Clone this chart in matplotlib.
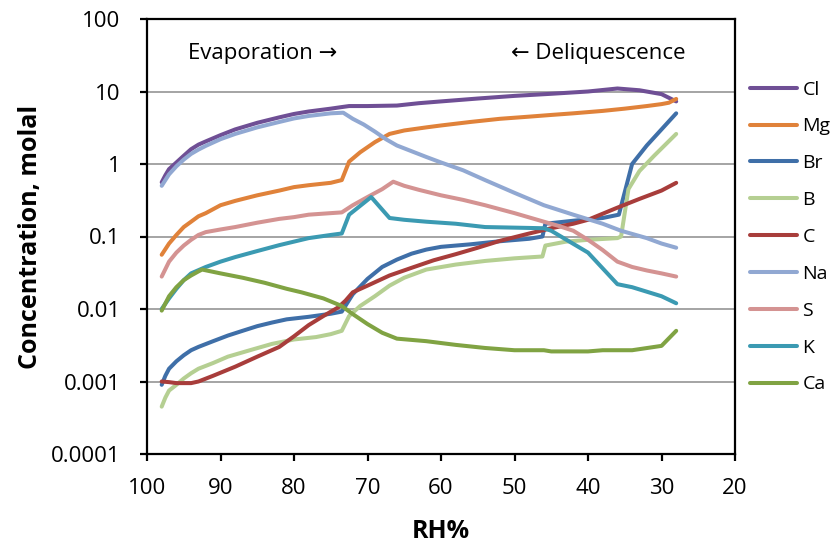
import matplotlib.pyplot as plt
from matplotlib.ticker import FixedLocator, FuncFormatter, NullLocator

# data (RH %, concentration in molal)
cl_rh = [98, 97.5, 97, 96, 95, 94, 93, 92, 90, 88, 85, 82, 80, 78, 75, 73.5, 72.5, 70, 66, 63, 60, 55, 50, 45, 40, 36, 33, 30, 28]
cl_val = [0.56, 0.7, 0.85, 1.05, 1.3, 1.6, 1.85, 2.05, 2.5, 3.0, 3.7, 4.4, 4.9, 5.3, 5.8, 6.1, 6.3, 6.3, 6.4, 6.9, 7.3, 8.0, 8.7, 9.3, 10.0, 11.0, 10.4, 9.2, 7.3]

mg_rh = [98, 97, 96, 95, 94, 93, 92, 90, 88, 85, 82, 80, 78, 75, 73.5, 72.5, 71, 69, 67, 65, 62, 60, 56, 52, 48, 45, 42, 38, 35, 32, 30, 29, 28]
mg_val = [0.056, 0.08, 0.105, 0.135, 0.16, 0.19, 0.21, 0.27, 0.31, 0.37, 0.43, 0.48, 0.51, 0.55, 0.6, 1.08, 1.45, 2.0, 2.6, 2.9, 3.2, 3.4, 3.8, 4.2, 4.5, 4.75, 5.0, 5.4, 5.8, 6.3, 6.7, 7.0, 7.9]

br_rh = [98, 97.5, 97, 96, 95, 94, 93, 91, 89, 87, 85, 83, 81, 78, 75, 73.5, 72, 70, 68, 66, 64, 62, 60, 56, 52, 48, 46.2, 45.8, 42, 38, 35.8, 34, 32, 30, 28]
br_val = [0.0009, 0.0012, 0.0015, 0.0019, 0.0023, 0.0027, 0.003, 0.0036, 0.0043, 0.005, 0.0058, 0.0065, 0.0072, 0.0078, 0.0086, 0.0092, 0.016, 0.026, 0.038, 0.048, 0.058, 0.066, 0.072, 0.078, 0.086, 0.093, 0.1, 0.15, 0.165, 0.18, 0.2, 1.0, 1.8, 3.0, 5.0]

b_rh = [98, 97.5, 97, 96, 95, 94, 93, 91, 89, 86, 83, 80, 77, 75, 73.5, 72.5, 71, 69, 67, 65, 62, 58, 54, 50, 46.2, 45.8, 43, 40, 36, 35.5, 34.5, 33, 31, 28]
b_val = [0.00045, 0.0006, 0.00075, 0.0009, 0.0011, 0.0013, 0.0015, 0.0018, 0.0022, 0.0027, 0.0033, 0.0038, 0.0041, 0.0045, 0.005, 0.008, 0.011, 0.015, 0.021, 0.027, 0.035, 0.041, 0.046, 0.05, 0.053, 0.075, 0.085, 0.09, 0.095, 0.1, 0.45, 0.8, 1.3, 2.6]

c_rh = [98, 97, 96, 94, 93, 91, 88, 85, 82, 80, 78, 76, 74, 73, 72, 70, 67, 64, 61, 58, 55, 52, 48, 45, 42, 40, 36, 33, 30, 28]
c_val = [0.001, 0.00098, 0.00095, 0.00095, 0.001, 0.0012, 0.0016, 0.0022, 0.003, 0.0042, 0.006, 0.008, 0.0105, 0.013, 0.017, 0.021, 0.029, 0.037, 0.047, 0.057, 0.07, 0.087, 0.11, 0.13, 0.15, 0.17, 0.25, 0.33, 0.43, 0.55]

na_rh = [98, 97, 96, 95, 94, 93, 92, 90, 88, 85, 82, 80, 78, 75, 73.3, 72, 70.5, 69, 67.5, 66, 64, 62, 60, 57, 54, 50, 46, 42, 38, 35.5, 32, 30, 28]
na_val = [0.5, 0.72, 0.93, 1.15, 1.38, 1.58, 1.78, 2.2, 2.6, 3.2, 3.8, 4.25, 4.6, 5.0, 5.1, 4.2, 3.5, 2.8, 2.2, 1.8, 1.5, 1.25, 1.05, 0.82, 0.6, 0.4, 0.27, 0.2, 0.15, 0.12, 0.095, 0.08, 0.07]

s_rh = [98, 97, 96, 95, 94, 93, 92, 90, 88, 85, 82, 80, 78, 75, 73.5, 72, 70, 68, 66.5, 65, 63, 60, 57, 54, 50, 46, 44, 42, 40, 38, 36, 34, 32, 30, 28]
s_val = [0.028, 0.045, 0.06, 0.075, 0.09, 0.105, 0.115, 0.125, 0.135, 0.155, 0.175, 0.185, 0.2, 0.21, 0.215, 0.27, 0.35, 0.45, 0.57, 0.5, 0.44, 0.37, 0.32, 0.27, 0.21, 0.16, 0.14, 0.12, 0.09, 0.065, 0.045, 0.038, 0.034, 0.031, 0.028]

k_rh = [98, 97, 96, 95, 94, 92, 90, 88, 85, 82, 80, 78, 75, 73.5, 72.5, 69.5, 67, 65, 62, 58, 54, 46, 45, 40, 36, 34, 30, 28]
k_val = [0.01, 0.014, 0.019, 0.025, 0.031, 0.038, 0.045, 0.052, 0.063, 0.076, 0.085, 0.095, 0.105, 0.11, 0.2, 0.35, 0.18, 0.17, 0.16, 0.15, 0.135, 0.13, 0.12, 0.06, 0.022, 0.02, 0.015, 0.012]

ca_rh = [98, 97, 96, 95, 94, 93, 92.5, 90, 87, 84, 81, 79, 76, 73.5, 72, 70, 68, 66, 62, 58, 54, 50, 46, 45, 40, 38, 34, 30, 28]
ca_val = [0.0095, 0.015, 0.02, 0.025, 0.029, 0.033, 0.035, 0.031, 0.027, 0.023, 0.019, 0.017, 0.014, 0.011, 0.0085, 0.0062, 0.0047, 0.0039, 0.0036, 0.0032, 0.0029, 0.0027, 0.0027, 0.0026, 0.0026, 0.0027, 0.0027, 0.0031, 0.005]

labels = ['Cl', 'Mg', 'Br', 'B', 'C', 'Na', 'S', 'K', 'Ca']
colors = ['#6f4f95', '#e0823a', '#3f6fa8', '#b5cf92', '#a83d3b', '#91a8d2', '#d49392', '#3b9ab2', '#80a343']
series = [(cl_rh, cl_val), (mg_rh, mg_val), (br_rh, br_val), (b_rh, b_val), (c_rh, c_val),
          (na_rh, na_val), (s_rh, s_val), (k_rh, k_val), (ca_rh, ca_val)]

plt.rcParams['font.family'] = ['Open Sans', 'DejaVu Sans']

fig = plt.figure(figsize=(8.32, 5.44), dpi=100)
ax = fig.add_axes([147 / 832, 1 - 454 / 544, (735 - 147) / 832, (454 - 19) / 544])

for (x, y), lab, col in zip(series, labels, colors):
    ax.plot(x, y, color=col, lw=2.9, label=lab, solid_capstyle='round', solid_joinstyle='round')

ax.set_yscale('log')
ax.set_ylim(1e-4, 100)
ax.set_xlim(100, 20)
ax.set_xticks(range(100, 19, -10))
ax.yaxis.set_major_locator(FixedLocator([1e-4, 1e-3, 1e-2, 1e-1, 1, 10, 100]))
ax.yaxis.set_minor_locator(NullLocator())
ax.yaxis.set_major_formatter(FuncFormatter(lambda v, p: '%g' % v))
ax.grid(axis='y', color='#8c8c8c', lw=1.1)
ax.set_axisbelow(True)

for sp in ax.spines.values():
    sp.set_linewidth(1.6)
    sp.set_color('black')
ax.tick_params(direction='out', length=5, width=1.6, labelsize=16)
ax.tick_params(axis='x', pad=12)
ax.tick_params(axis='y', pad=14)

ax.set_xlabel('RH%', fontsize=18, fontweight='bold', labelpad=15)
ax.set_ylabel('Concentration, molal', fontsize=18, fontweight='bold', labelpad=6)

ax.text(0.07, 0.92, 'Evaporation \u2192', transform=ax.transAxes, fontsize=16, va='center')
ax.text(0.915, 0.92, '\u2190 Deliquescence', transform=ax.transAxes, fontsize=16, va='center', ha='right')

ax.legend(loc='center left', bbox_to_anchor=(750 / 832, 1 - 237 / 544), bbox_transform=fig.transFigure,
          frameon=False, fontsize=14, handlelength=2.4, labelspacing=0.97, borderpad=0,
          borderaxespad=0, handletextpad=0.3)

fig.savefig('out.png', dpi=100)
